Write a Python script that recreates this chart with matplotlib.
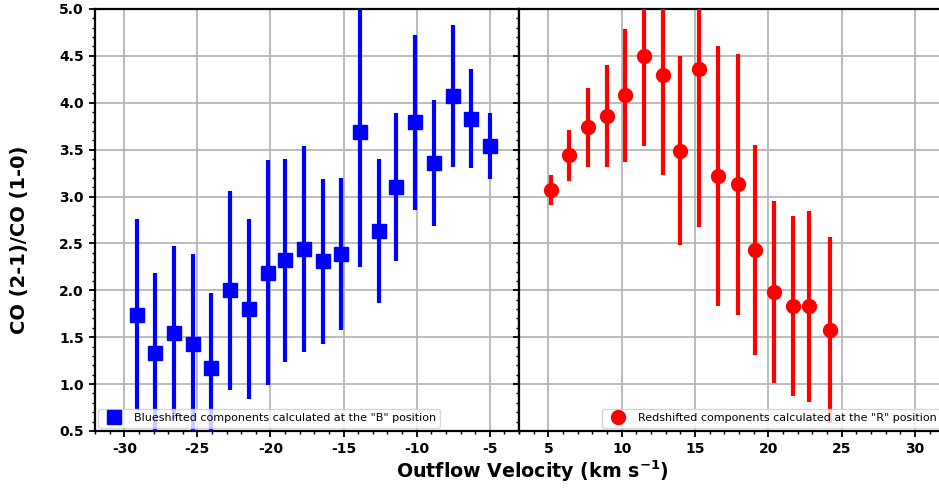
import numpy as np
import matplotlib
matplotlib.use('Agg')
import matplotlib.pyplot as plt
from matplotlib.ticker import MultipleLocator

# blueshifted components ("B" position)
blue_v = [-29.1, -27.9, -26.6, -25.3, -24.1, -22.8, -21.5, -20.2, -19.0, -17.7,
          -16.4, -15.2, -13.9, -12.6, -11.4, -10.1, -8.8, -7.5, -6.3, -5.0]
blue_ratio = [1.74, 1.33, 1.55, 1.43, 1.17, 2.00, 1.80, 2.19, 2.32, 2.44,
              2.31, 2.39, 3.69, 2.63, 3.10, 3.79, 3.36, 4.07, 3.83, 3.54]
blue_err = [1.02, 0.86, 0.92, 0.96, 0.80, 1.06, 0.96, 1.20, 1.08, 1.10,
            0.88, 0.81, 1.44, 0.77, 0.79, 0.93, 0.67, 0.76, 0.53, 0.35]

# redshifted components ("R" position)
red_v = [5.2, 6.4, 7.7, 9.0, 10.2, 11.5, 12.8, 14.0, 15.3, 16.6,
         17.9, 19.1, 20.4, 21.7, 22.8, 24.2]
red_ratio = [3.07, 3.44, 3.74, 3.86, 4.08, 4.50, 4.30, 3.49, 4.36, 3.22,
             3.13, 2.43, 1.98, 1.83, 1.83, 1.58]
red_err = [0.16, 0.27, 0.42, 0.54, 0.71, 0.96, 1.07, 1.01, 1.69, 1.39,
           1.39, 1.12, 0.97, 0.96, 1.02, 0.99]

fig = plt.figure(figsize=(9.39, 4.91), dpi=100)
ax1 = fig.add_axes([0.1012, 0.1222, 0.4515, 0.8595])
ax2 = fig.add_axes([0.5527, 0.1222, 0.4530, 0.8595])

ax1.errorbar(blue_v, blue_ratio, yerr=blue_err, fmt='none', ecolor='blue', elinewidth=3, zorder=3)
ax1.plot(blue_v, blue_ratio, 's', color='blue', ms=10, zorder=4,
         label='Blueshifted components calculated at the "B" position')
ax2.errorbar(red_v, red_ratio, yerr=red_err, fmt='none', ecolor='red', elinewidth=3, zorder=3)
ax2.plot(red_v, red_ratio, 'o', color='red', ms=10, zorder=4,
         label='Redshifted components calculated at the "R" position')

ax1.set_xlim(-32, -3)
ax2.set_xlim(3, 32)
for ax in (ax1, ax2):
    ax.set_ylim(0.5, 5.0)
    ax.yaxis.set_major_locator(MultipleLocator(0.5))
    ax.yaxis.set_minor_locator(MultipleLocator(0.1))
    ax.xaxis.set_major_locator(MultipleLocator(5))
    ax.xaxis.set_minor_locator(MultipleLocator(1))
    ax.grid(True, which='major', color='#b0b0b0', lw=1.2)
    ax.set_axisbelow(True)
    ax.tick_params(which='major', length=4.5, width=1.3, labelsize=10)
    ax.tick_params(which='minor', length=2.5, width=1.0)
    for s in ax.spines.values():
        s.set_linewidth(1.6)
    for lab in ax.get_xticklabels() + ax.get_yticklabels():
        lab.set_fontweight('bold')

ax1.set_xticks([-30, -25, -20, -15, -10, -5])
ax1.set_xticklabels(['-30', '-25', '-20', '-15', '-10', '-5'], fontweight='bold')
ax2.set_xticks([5, 10, 15, 20, 25, 30])
ax2.set_xticklabels(['5', '10', '15', '20', '25', '30'], fontweight='bold')
ax2.tick_params(axis='y', labelleft=False)

ax1.set_ylabel('CO (2-1)/CO (1-0)', fontsize=14, fontweight='bold')
ax1.yaxis.set_label_coords(-0.155, 0.4526)
fig.text(0.567, 0.015, r'Outflow Velocity (km s$^{\mathbf{-1}}$)', ha='center', va='bottom',
         fontsize=13.7, fontweight='bold')

ax1.legend(loc='lower left', fontsize=8, numpoints=1, borderaxespad=0.3)
ax2.legend(loc='lower right', fontsize=8, numpoints=1, borderaxespad=0.3)

fig.savefig('out.png', dpi=100)
